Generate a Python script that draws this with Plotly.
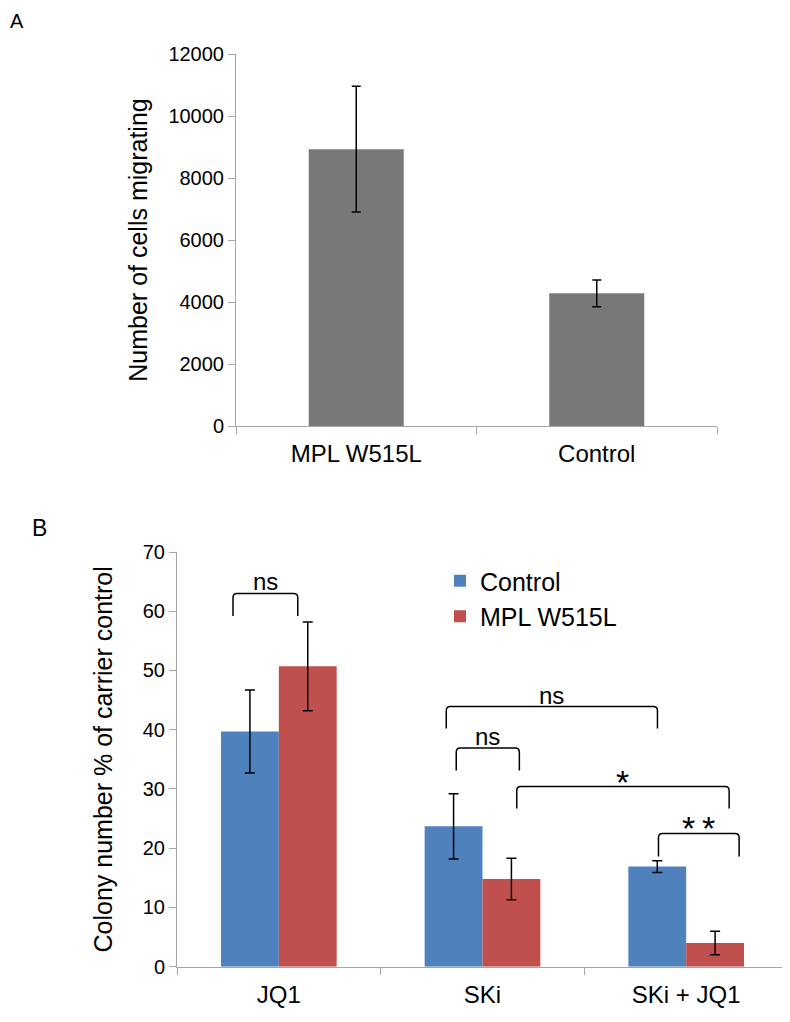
import plotly.graph_objects as go

# Panel A: cell migration
a_categories = ["MPL W515L", "Control"]
a_values = [8930, 4280]
a_errors = [2030, 430]

# Panel B: colony number % of carrier control
b_categories = ["JQ1", "SKi", "SKi + JQ1"]
b_control = [39.7, 23.7, 16.9]
b_control_err = [7.0, 5.5, 1.0]
b_mpl = [50.7, 14.8, 4.0]
b_mpl_err = [7.5, 3.5, 2.0]

# significance brackets: (x left, x right, y top, y legs end, label)
brackets = [
    (-0.225, 0.093, 63.0, 59.2, "ns"),
    (0.822, 1.859, 43.9, 40.2, "ns"),
    (0.871, 1.181, 36.9, 33.1, "ns"),
    (1.168, 2.211, 30.4, 26.7, "*"),
    (1.864, 2.260, 22.5, 18.6, "*\u2009*"),
]

FONT = "Arial, Liberation Sans, sans-serif"
AXIS_COL = "#a6a6a6"

# page has an 8px body margin, so the figure is a bit smaller and positions are shifted
OFF = 8
W, H = 790 - OFF, 1022 - OFF


def px(x):
    return (x - OFF) / W


def py(y):
    return 1 - (y - OFF) / H


fig = go.Figure()

fig.add_trace(go.Bar(x=a_categories, y=a_values, width=0.395, marker=dict(color="#787878", line_width=0),
                     error_y=dict(type="data", array=a_errors, color="black", thickness=1.5, width=4.5),
                     showlegend=False, xaxis="x", yaxis="y"))

fig.add_trace(go.Bar(x=b_categories, y=b_control, name="Control", width=0.284, offset=-0.284,
                     marker=dict(color="#4f81bd", line_width=0),
                     error_y=dict(type="data", array=b_control_err, color="black", thickness=1.5, width=5),
                     xaxis="x2", yaxis="y2"))
fig.add_trace(go.Bar(x=b_categories, y=b_mpl, name="MPL W515L", width=0.284, offset=0,
                     marker=dict(color="#c0504d", line_width=0),
                     error_y=dict(type="data", array=b_mpl_err, color="black", thickness=1.5, width=5),
                     xaxis="x2", yaxis="y2"))

rx, ry = 0.02, 0.7
for x0, x1, ytop, ylow, label in brackets:
    path = (f"M {x0},{ylow} L {x0},{ytop - ry} Q {x0},{ytop} {x0 + rx},{ytop} "
            f"L {x1 - rx},{ytop} Q {x1},{ytop} {x1},{ytop - ry} L {x1},{ylow}")
    fig.add_shape(type="path", path=path, xref="x2", yref="y2", line=dict(color="black", width=1.5))
    star = label.startswith("*")
    fig.add_annotation(x=(x0 + x1) / 2, y=ytop, xref="x2", yref="y2", text=label, showarrow=False,
                       yanchor="bottom", yshift=-16 if star else -4,
                       font=dict(size=34 if star else 24, color="black", family=FONT))

fig.add_annotation(x=0, y=1, xref="paper", yref="paper", text="A", showarrow=False,
                   xanchor="left", yanchor="top", font=dict(size=20, color="black", family=FONT))
fig.add_annotation(x=px(30), y=py(513), xref="paper", yref="paper", text="B", showarrow=False,
                   xanchor="left", yanchor="top", font=dict(size=23, color="black", family=FONT))

axis_common = dict(showline=True, linecolor=AXIS_COL, linewidth=1, ticks="outside", tickcolor=AXIS_COL,
                   ticklen=7, showgrid=False, zeroline=False, automargin=False,
                   tickfont=dict(size=20, color="black", family=FONT))
cat_axis = dict(type="category", tickson="boundaries", ticklabelstandoff=6,
                **{**axis_common, "tickfont": dict(size=24, color="black", family=FONT)})

fig.update_layout(
    width=W, height=H, margin=dict(l=0, r=0, t=0, b=0, autoexpand=False),
    paper_bgcolor="white", plot_bgcolor="white", barmode="overlay",
    font=dict(family=FONT, color="black"),
    xaxis=dict(domain=[px(236), px(717)], anchor="y", range=[-0.5, 1.5], **cat_axis),
    yaxis=dict(domain=[py(426), py(54)], anchor="x", range=[0, 12000], dtick=2000, tickformat="d",
               title=dict(text="Number of cells migrating", font=dict(size=25, family=FONT), standoff=13),
               **axis_common),
    xaxis2=dict(domain=[px(177), px(788)], anchor="y2", range=[-0.5, 2.5], **cat_axis),
    yaxis2=dict(domain=[py(966.7), py(552)], anchor="x2", range=[0, 70], dtick=10,
                title=dict(text="Colony number % of carrier control", font=dict(size=25, family=FONT),
                           standoff=22),
                **axis_common),
    legend=dict(x=px(440), y=py(558), xanchor="left", yanchor="top", bgcolor="rgba(0,0,0,0)",
                font=dict(size=25, color="black", family=FONT), itemwidth=30, tracegroupgap=0),
)

fig.write_html("out.html")
